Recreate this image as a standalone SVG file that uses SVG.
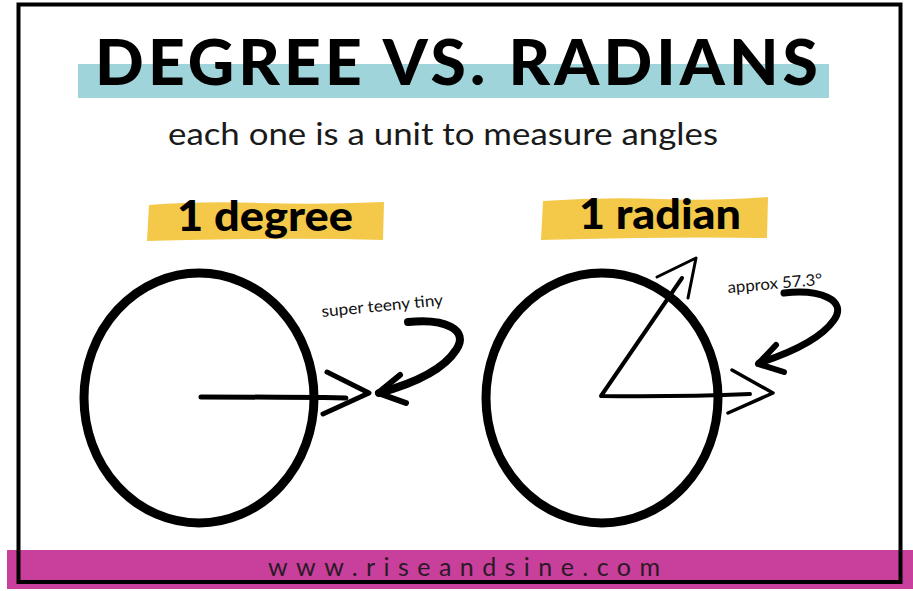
<svg xmlns="http://www.w3.org/2000/svg" width="913" height="591" viewBox="0 0 913 591">
<style>
.ink{fill:none;stroke:#000;stroke-linecap:round;stroke-linejoin:round}
.t{font-family:Lato,"Noto Sans","Liberation Sans",sans-serif}
.hl{fill:#f4c94a}
</style>
<rect width="913" height="591" fill="#fff"/>
<g id="title">
<rect x="78" y="64" width="751" height="34" fill="#9fd5da"/>
<text class="t" x="95" y="85" font-size="63" font-weight="900" letter-spacing="4" textLength="727" lengthAdjust="spacingAndGlyphs" fill="#000">DEGREE VS. RADIANS</text>
</g>
<g id="subtitle">
<text class="t" x="168" y="145" font-size="30" textLength="550" lengthAdjust="spacingAndGlyphs" fill="#1a1a1a">each one is a unit to measure angles</text>
</g>
<g id="label-degree">
<path class="hl" d="M149,205 Q200,201 260,203 T384,202 L383,240 Q320,238 250,239 T147,241 Z"/>
<text class="t" x="177" y="231" font-size="42" font-weight="900" textLength="176" lengthAdjust="spacingAndGlyphs" fill="#000">1 degree</text>
</g>
<g id="label-radian">
<path class="hl" d="M543,201 Q600,197 660,199 T768,197 L767,238 Q700,237 640,238 T541,240 Z"/>
<text class="t" x="579" y="229" font-size="42" font-weight="900" textLength="162" lengthAdjust="spacingAndGlyphs" fill="#000">1 radian</text>
</g>
<g id="degree-circle">
<ellipse class="ink" cx="199" cy="398" rx="115" ry="125" stroke-width="9"/>
<path class="ink" d="M201,397 Q280,397 346,398" stroke-width="5"/>
<path class="ink" d="M327,372 L369,393 L323,414" stroke-width="5"/>
</g>
<g id="degree-note">
<text class="t" x="322" y="317" font-size="16" textLength="122" lengthAdjust="spacingAndGlyphs" fill="#111" transform="rotate(-5.5 322 317)">super teeny tiny</text>
</g>
<g id="radian-circle">
<ellipse class="ink" cx="602" cy="398" rx="116" ry="125" stroke-width="9"/>
<path class="ink" d="M682,278 L601,396 Q680,397 750,394" stroke-width="4"/>
<path class="ink" d="M657,277 L696,258 L688,298" stroke-width="3"/>
<path class="ink" d="M732,370 L773,393 L728,413" stroke-width="3.5"/>
</g>
<g id="radian-note">
<text class="t" x="728" y="293" font-size="16" textLength="95" lengthAdjust="spacingAndGlyphs" fill="#111" transform="rotate(-5 728 293)">approx 57.3°</text>
</g>
<g id="connectors">
<path class="ink" d="M408,322 C445,318 470,330 456,350 C442,372 408,385 379,393" stroke-width="8"/>
<path class="ink" d="M400,375 L378,393 L406,403" stroke-width="6"/>
<path class="ink" d="M784,293 C820,289 848,300 834,320 C820,340 790,353 759,363" stroke-width="7"/>
<path class="ink" d="M776,345 L758,364 L784,372" stroke-width="6"/>
</g>
<g id="footer">
<rect x="7" y="550" width="906" height="39" fill="#c93f9c"/>
<text class="t" x="268" y="576" font-size="25" textLength="392" lengthAdjust="spacing" fill="#2b1a26">www.riseandsine.com</text>
</g>
<rect x="18.5" y="4.5" width="882" height="577.5" fill="none" stroke="#000" stroke-width="4"/>
</svg>
